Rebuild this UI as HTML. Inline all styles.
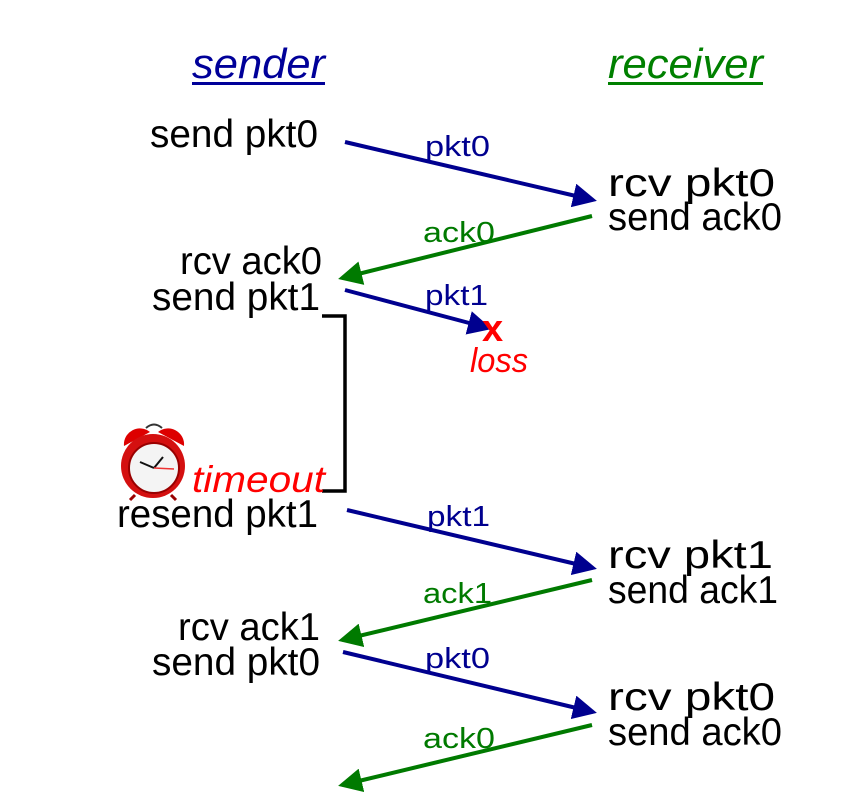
<!DOCTYPE html>
<html><head><meta charset="utf-8"><style>
html,body{margin:0;padding:0;background:#fff;width:856px;height:812px;overflow:hidden}
text{font-family:"Liberation Sans",sans-serif}
.b{font-size:39px;fill:#000}
.l{font-size:29px}
</style></head><body>
<svg width="856" height="812" viewBox="0 0 856 812" xmlns="http://www.w3.org/2000/svg">
<defs>
<marker id="ab" markerWidth="6" markerHeight="6" refX="5" refY="3" orient="auto" markerUnits="strokeWidth"><path d="M0,0 L6,3 L0,6 z" fill="#00008f"/></marker>
<marker id="ag" markerWidth="6" markerHeight="6" refX="5" refY="3" orient="auto" markerUnits="strokeWidth"><path d="M0,0 L6,3 L0,6 z" fill="#007a00"/></marker>
</defs>
<text x="192" y="78" font-size="42" font-style="italic" fill="#000099" textLength="133" lengthAdjust="spacingAndGlyphs">sender</text>
<rect x="192" y="82" width="133" height="3" fill="#000099"/>
<text x="608" y="78" font-size="42" font-style="italic" fill="#008000" textLength="155" lengthAdjust="spacingAndGlyphs">receiver</text>
<rect x="608" y="82" width="155" height="3" fill="#008000"/>

<g class="b">
<text x="150" y="147" textLength="168" lengthAdjust="spacingAndGlyphs">send pkt0</text>
<text x="608" y="196" textLength="167" lengthAdjust="spacingAndGlyphs">rcv pkt0</text>
<text x="608" y="230" textLength="174" lengthAdjust="spacingAndGlyphs">send ack0</text>
<text x="180" y="274" textLength="142" lengthAdjust="spacingAndGlyphs">rcv ack0</text>
<text x="152" y="310" textLength="168" lengthAdjust="spacingAndGlyphs">send pkt1</text>
<text x="117" y="527" textLength="201" lengthAdjust="spacingAndGlyphs">resend pkt1</text>
<text x="608" y="568" textLength="165" lengthAdjust="spacingAndGlyphs">rcv pkt1</text>
<text x="608" y="603" textLength="170" lengthAdjust="spacingAndGlyphs">send ack1</text>
<text x="178" y="640" textLength="142" lengthAdjust="spacingAndGlyphs">rcv ack1</text>
<text x="152" y="675" textLength="168" lengthAdjust="spacingAndGlyphs">send pkt0</text>
<text x="608" y="710" textLength="167" lengthAdjust="spacingAndGlyphs">rcv pkt0</text>
<text x="608" y="745" textLength="174" lengthAdjust="spacingAndGlyphs">send ack0</text>
</g>

<g stroke-width="4" fill="none">
<line x1="345" y1="142" x2="593" y2="200" stroke="#00008f" marker-end="url(#ab)"/>
<line x1="592" y1="216" x2="342" y2="278" stroke="#007a00" marker-end="url(#ag)"/>
<line x1="345" y1="290" x2="488" y2="328" stroke="#00008f" marker-end="url(#ab)"/>
<line x1="347" y1="510" x2="593" y2="568" stroke="#00008f" marker-end="url(#ab)"/>
<line x1="592" y1="580" x2="342" y2="640" stroke="#007a00" marker-end="url(#ag)"/>
<line x1="343" y1="652" x2="593" y2="712" stroke="#00008f" marker-end="url(#ab)"/>
<line x1="592" y1="725" x2="342" y2="785" stroke="#007a00" marker-end="url(#ag)"/>
<polyline points="322,316 345,316 345,491 322,491" stroke="#000" stroke-width="3.5"/>
</g>

<g class="l">
<text x="425" y="156" fill="#00008f" textLength="65" lengthAdjust="spacingAndGlyphs">pkt0</text>
<text x="423" y="242" fill="#007a00" textLength="72" lengthAdjust="spacingAndGlyphs">ack0</text>
<text x="425" y="305" fill="#00008f" textLength="63" lengthAdjust="spacingAndGlyphs">pkt1</text>
<text x="427" y="526" fill="#00008f" textLength="63" lengthAdjust="spacingAndGlyphs">pkt1</text>
<text x="423" y="603" fill="#007a00" textLength="69" lengthAdjust="spacingAndGlyphs">ack1</text>
<text x="425" y="668" fill="#00008f" textLength="65" lengthAdjust="spacingAndGlyphs">pkt0</text>
<text x="423" y="748" fill="#007a00" textLength="72" lengthAdjust="spacingAndGlyphs">ack0</text>
</g>

<text x="482" y="341" font-size="38" font-weight="bold" fill="#ff0000">x</text>
<text x="470" y="372" font-size="34" font-style="italic" fill="#ff0000" textLength="58" lengthAdjust="spacingAndGlyphs">loss</text>
<text x="192" y="492" font-size="37" font-style="italic" fill="#ff0000" textLength="133" lengthAdjust="spacingAndGlyphs">timeout</text>

<g>
<path d="M124,446 a16,16 0 0 1 26,-14 z" fill="#d00"/>
<path d="M158,432 a16,16 0 0 1 26,14 z" fill="#d00"/>
<path d="M146,428 q8,-7 16,0" stroke="#333" stroke-width="2" fill="none"/>
<circle cx="153" cy="466" r="32" fill="#d41010"/>
<circle cx="154" cy="468" r="25" fill="#f4f4f4" stroke="#900" stroke-width="2"/>
<line x1="154" y1="468" x2="140" y2="462" stroke="#111" stroke-width="2"/>
<line x1="154" y1="468" x2="163" y2="457" stroke="#111" stroke-width="2"/>
<line x1="154" y1="468" x2="174" y2="469" stroke="#e33" stroke-width="1.5"/>
<line x1="135" y1="495" x2="130" y2="500" stroke="#900" stroke-width="3"/>
<line x1="171" y1="495" x2="176" y2="500" stroke="#900" stroke-width="3"/>
</g>
</svg>
</body></html>
